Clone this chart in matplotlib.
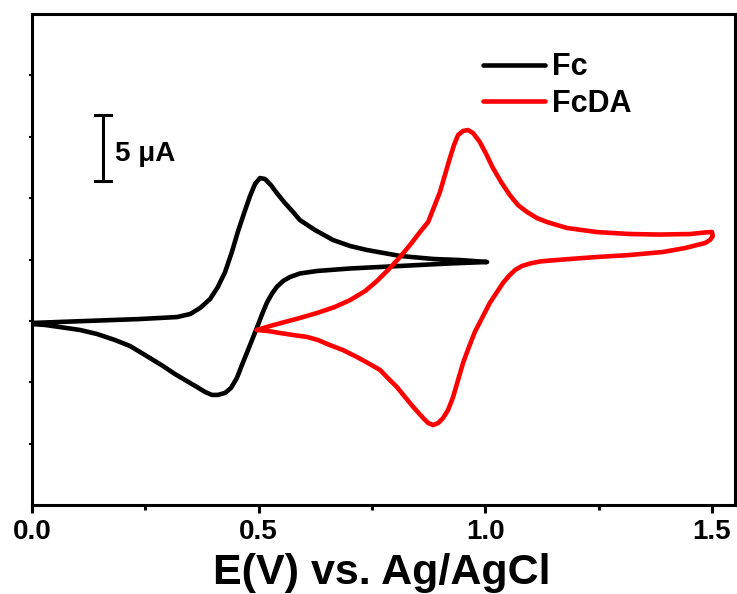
import matplotlib
matplotlib.use("Agg")
import matplotlib.pyplot as plt
import numpy as np
from matplotlib.ticker import MultipleLocator, FixedLocator

plt.rcParams['font.family'] = ['Liberation Sans', 'DejaVu Sans']
plt.rcParams['font.weight'] = 'bold'

# Fc: forward (anodic) sweep then reverse sweep; E in V, I in uA
fc_E_fwd = [0.000, 0.062, 0.150, 0.238, 0.320, 0.349, 0.371, 0.393, 0.410, 0.426, 0.441,
            0.454, 0.468, 0.481, 0.492, 0.503, 0.514, 0.527, 0.540, 0.558, 0.576, 0.591,
            0.624, 0.664, 0.702, 0.739, 0.812, 0.885, 0.944, 1.004]
fc_I_fwd = [0.00, 0.08, 0.19, 0.30, 0.45, 0.68, 1.14, 1.82, 2.73, 3.86, 5.38,
            6.89, 8.33, 9.62, 10.53, 10.98, 10.91, 10.45, 9.85, 9.09, 8.41, 7.80,
            7.05, 6.29, 5.83, 5.53, 5.08, 4.85, 4.77, 4.62]
fc_E_rev = [1.004, 0.922, 0.812, 0.702, 0.629, 0.591, 0.569, 0.554, 0.540, 0.529, 0.518,
            0.507, 0.496, 0.481, 0.465, 0.452, 0.439, 0.426, 0.410, 0.397, 0.382, 0.364,
            0.349, 0.315, 0.289, 0.249, 0.216, 0.183, 0.143, 0.106, 0.068, 0.029, 0.000]
fc_I_rev = [4.62, 4.51, 4.32, 4.13, 3.94, 3.75, 3.48, 3.18, 2.73, 2.20, 1.52,
            0.61, -0.38, -1.67, -3.03, -4.17, -4.92, -5.30, -5.45, -5.45, -5.23, -4.85,
            -4.55, -3.86, -3.26, -2.42, -1.74, -1.29, -0.83, -0.53, -0.34, -0.15, -0.08]

# FcDA
fcda_E_fwd = [0.496, 0.525, 0.554, 0.591, 0.629, 0.668, 0.702, 0.735, 0.761, 0.790, 0.812,
              0.834, 0.856, 0.874, 0.887, 0.900, 0.911, 0.922, 0.931, 0.940, 0.951, 0.962,
              0.973, 0.988, 1.002, 1.017, 1.035, 1.054, 1.072, 1.092, 1.114, 1.136, 1.180,
              1.246, 1.319, 1.385, 1.452, 1.485, 1.500]
fcda_I_fwd = [-0.53, -0.23, 0.04, 0.38, 0.76, 1.21, 1.74, 2.42, 3.18, 4.17, 5.00,
              5.91, 6.89, 7.65, 8.79, 9.92, 11.21, 12.50, 13.48, 14.24, 14.55, 14.62,
              14.39, 13.71, 12.80, 11.74, 10.68, 9.70, 8.94, 8.41, 7.95, 7.65, 7.20,
              6.89, 6.74, 6.70, 6.74, 6.86, 6.89]
fcda_E_rev = [1.500, 1.502, 1.496, 1.485, 1.441, 1.392, 1.319, 1.246, 1.187, 1.143, 1.121,
              1.099, 1.081, 1.066, 1.052, 1.039, 1.026, 1.010, 0.993, 0.977, 0.964, 0.951,
              0.940, 0.929, 0.918, 0.907, 0.896, 0.885, 0.874, 0.863, 0.841, 0.823, 0.805,
              0.785, 0.768, 0.741, 0.717, 0.686, 0.657, 0.631, 0.607, 0.576, 0.547, 0.521,
              0.496]
fcda_I_rev = [6.89, 6.59, 6.29, 6.06, 5.68, 5.38, 5.15, 5.00, 4.85, 4.73, 4.66,
              4.51, 4.32, 4.02, 3.56, 3.03, 2.35, 1.52, 0.38, -0.68, -1.82, -3.03,
              -4.32, -5.61, -6.59, -7.20, -7.58, -7.73, -7.58, -7.20, -6.36, -5.61, -4.85,
              -4.17, -3.56, -3.03, -2.58, -2.05, -1.67, -1.29, -1.06, -0.91, -0.76, -0.61,
              -0.53]

series_labels = ["Fc", "FcDA"]
series_colors = ["black", "red"]
x_ticks = [0.0, 0.5, 1.0, 1.5]
x_ticklabels = ["0.0", "0.5", "1.0", "1.5"]
x_label = "E(V) vs. Ag/AgCl"
scale_bar_uA = 5
scale_bar_text = "5 \u03bcA"

fig = plt.figure(figsize=(7.37, 5.94), dpi=100)
ax = fig.add_axes([32/737, 1-505/594, 703/737, 491/594])

fc_E = fc_E_fwd + fc_E_rev[1:]
fc_I = fc_I_fwd + fc_I_rev[1:]
fcda_E = fcda_E_fwd + fcda_E_rev[1:]
fcda_I = fcda_I_fwd + fcda_I_rev[1:]

ax.plot(fc_E, fc_I, color=series_colors[0], lw=3.3, label=series_labels[0],
        solid_joinstyle='round', solid_capstyle='round')
ax.plot(fcda_E, fcda_I, color=series_colors[1], lw=3.3, label=series_labels[1],
        solid_joinstyle='round', solid_capstyle='round')

ax.set_xlim(0.0, 1.551)
ylo, yhi = -13.79, 23.41
ax.set_ylim(ylo, yhi)

ax.xaxis.set_major_locator(FixedLocator(x_ticks))
ax.set_xticklabels(x_ticklabels)
ax.xaxis.set_minor_locator(MultipleLocator(0.25))
ax.yaxis.set_major_locator(FixedLocator(list(np.linspace(ylo, yhi, 9)[1:-1])))
ax.set_yticklabels([])

for s in ax.spines.values():
    s.set_linewidth(2.2)
ax.tick_params(axis='x', which='major', direction='out', length=6, width=2.2,
               labelsize=20, pad=4)
ax.tick_params(axis='x', which='minor', direction='out', length=3.5, width=2.2)
ax.tick_params(axis='y', which='major', direction='out', length=2, width=1.5)
for lab in ax.get_xticklabels():
    lab.set_fontweight('bold')

ax.set_xlabel(x_label, fontsize=31, fontweight='bold')
ax.xaxis.set_label_coords(0.498, -0.097)

# scale bar
sx = 0.157
sy0 = 10.76
cap = 0.018
ax.plot([sx, sx], [sy0, sy0 + scale_bar_uA], color='black', lw=2.2)
ax.plot([sx - cap, sx + cap], [sy0, sy0], color='black', lw=2.2)
ax.plot([sx - cap, sx + cap], [sy0 + scale_bar_uA, sy0 + scale_bar_uA], color='black', lw=2.2)
ax.text(sx + 0.027, sy0 + scale_bar_uA / 2 - 0.45, scale_bar_text, fontsize=20,
        fontweight='bold', va='center', ha='left')

leg = ax.legend(loc='upper left', bbox_to_anchor=(0.6415, 0.922), frameon=False,
                borderpad=0, borderaxespad=0,
                prop={'size': 22, 'weight': 'bold'}, handlelength=2.03, handletextpad=0.23,
                labelspacing=0.22)
for line in leg.get_lines():
    line.set_linewidth(3.3)

fig.savefig("out.png", dpi=100)
